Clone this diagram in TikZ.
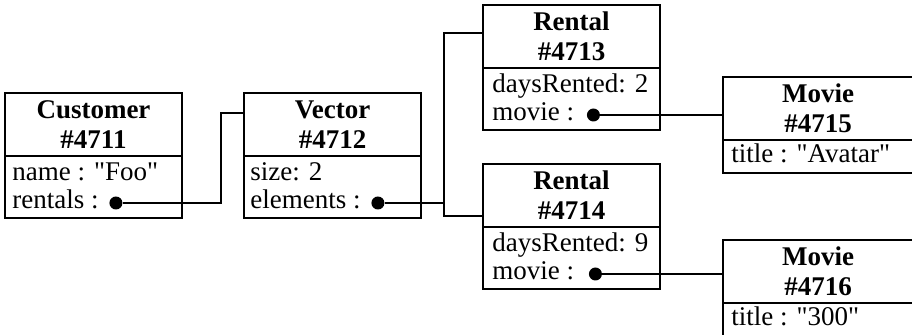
\documentclass[tikz,border=0pt]{standalone}
\usepackage{fontspec}
\setmainfont{Liberation Serif}[Ligatures=TeXOff]
\usetikzlibrary{positioning}

\tikzset{
	objhead/.style={rectangle, draw, line width=1pt, outer sep=0pt, inner sep=0pt,
		font=\fontsize{13.5}{15}\selectfont\bfseries, align=center,
		minimum width=88.5pt, minimum height=31.5pt, anchor=north west},
	objbody/.style={rectangle, draw, line width=1pt, outer sep=0pt,
		minimum width=88.5pt, minimum height=31pt},
	attr/.style={anchor=base west, inner sep=0pt, text height=9pt, text depth=3pt,
		font=\fontsize{13.5}{15}\selectfont},
	ref/.style={circle, fill, inner sep=0pt, minimum size=6.5pt},
	link/.style={line width=1pt}
}

\begin{document}
\begin{tikzpicture}[x=0.5pt, y=-0.5pt]
	\useasboundingbox (0,0) rectangle (912,335);
	% Place objects
	\node [objhead] (cust) at (5,93) {Customer\\\#4711};
	\node [objbody, below=0pt of cust] (cust-b) {};
	\node [attr] (cust-name) at ([shift={(7,25)}]cust-b.north west) {name : "Foo"};
	\node [attr] (cust-rentals) at ([shift={(7,53)}]cust-b.north west) {rentals :};
	\node [ref, right=5pt of cust-rentals] (cust-ref) {};

	\node [objhead] (vec) at (244,93) {Vector\\\#4712};
	\node [objbody, below=0pt of vec] (vec-b) {};
	\node [attr] (vec-size) at ([shift={(6,25)}]vec-b.north west) {size: 2};
	\node [attr] (vec-elems) at ([shift={(6,53)}]vec-b.north west) {elements :};
	\node [ref, right=5pt of vec-elems] (vec-ref) {};

	\node [objhead] (r1) at (483,5) {Rental\\\#4713};
	\node [objbody, below=0pt of r1] (r1-b) {};
	\node [attr] (r1-days) at ([shift={(9,25)}]r1-b.north west) {daysRented: 2};
	\node [attr] (r1-movie) at ([shift={(9,53)}]r1-b.north west) {movie :};
	\node [ref, right=6pt of r1-movie] (r1-ref) {};

	\node [objhead] (r2) at (483,164) {Rental\\\#4714};
	\node [objbody, below=0pt of r2] (r2-b) {};
	\node [attr] (r2-days) at ([shift={(9,25)}]r2-b.north west) {daysRented: 9};
	\node [attr] (r2-movie) at ([shift={(9,53)}]r2-b.north west) {movie :};
	\node [ref, right=7pt of r2-movie] (r2-ref) {};

	\node [objhead, minimum width=95pt] (m1) at (723,77) {Movie\\\#4715};
	\node [objbody, minimum width=95pt, minimum height=16.5pt, below=0pt of m1] (m1-b) {};
	\node [attr] (m1-title) at ([shift={(8,23)}]m1-b.north west) {title : "Avatar"};

	\node [objhead, minimum width=95pt] (m2) at (723,240) {Movie\\\#4716};
	\node [objbody, minimum width=95pt, minimum height=16.5pt, below=0pt of m2] (m2-b) {};
	\node [attr] (m2-title) at ([shift={(8,23)}]m2-b.north west) {title : "300"};

	% References
	\coordinate (k1) at (221,113);
	\coordinate (k2) at (444,33);
	\coordinate (k3) at (444,216);
	\draw [link] (cust-ref) -| (k1) -- (k1 -| vec.west);
	\draw [link] (vec-ref) -- (vec-ref -| k2);
	\draw [link] (k2 -| r1.west) -- (k2) -- (k3) -- (k3 -| r2.west);
	\draw [link] (r1-ref) -- (r1-ref -| m1.west);
	\draw [link] (r2-ref) -- (r2-ref -| m2.west);
\end{tikzpicture}
\end{document}
